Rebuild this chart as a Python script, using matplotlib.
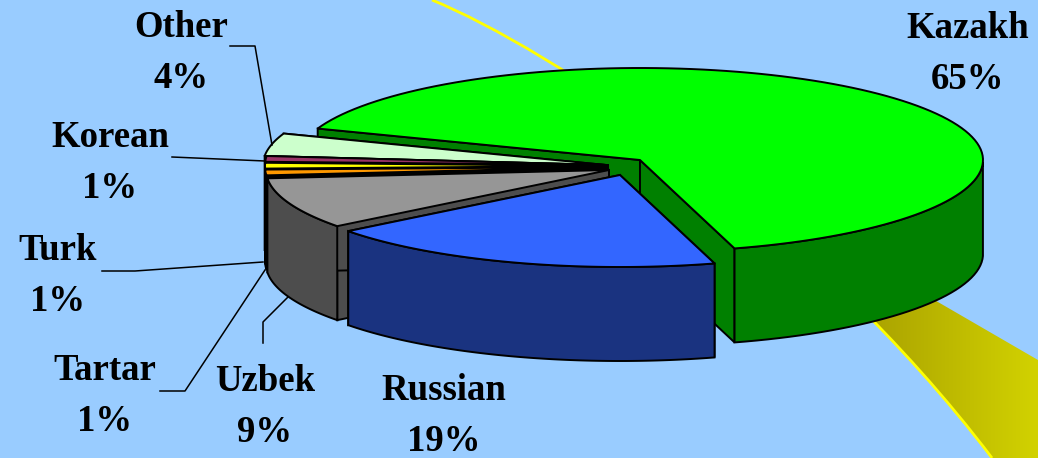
import numpy as np
import matplotlib
matplotlib.use('Agg')
import matplotlib.pyplot as plt
from matplotlib.colors import LinearSegmentedColormap
from matplotlib.patches import Polygon, PathPatch
from matplotlib.path import Path

groups = ['Kazakh', 'Russian', 'Uzbek', 'Tartar', 'Turk', 'Korean', 'Other']
shares = [65, 19, 9, 1, 1, 1, 4]

top_colors = ['#00FF00', '#3366FF', '#969696', '#FF9900', '#FFFF00', '#993366', '#CCFFCC']
side_colors = ['#008000', '#1A3380', '#4D4D4D', '#000000', '#000000', '#000000', '#000000']
# where each slice's point ends up after the explode
apex_x = [640, 620, 609, 608, 608, 608, 606]
apex_y = [160, 175, 170, 167, 166, 165, 165]
# draw back to front
draw_order = [0, 6, 5, 4, 3, 2, 1]

label_x = [968, 444, 265, 105, 58, 110, 181]
label_y = [54, 416, 407, 396, 276, 163, 53]

rx, ry = 343, 92
depth = 94
start = 160
edge = 1.4

plt.rcParams['font.family'] = ['Liberation Serif', 'DejaVu Serif']

fig = plt.figure(figsize=(10.38, 4.58), dpi=100, facecolor='#99CCFF')
ax = fig.add_axes([0, 0, 1, 1])
ax.set_facecolor('#99CCFF')
ax.axis('off')

# backdrop: yellow swoosh behind the pie
curve = [(432, 0), (549, 48), (810, 218), (992, 458)]
curve_codes = [Path.MOVETO, Path.CURVE4, Path.CURVE4, Path.CURVE4]
band = Path(curve + [(1038, 458), (1038, 360), (900, 280), (432, 0)],
            curve_codes + [Path.LINETO, Path.LINETO, Path.LINETO, Path.CLOSEPOLY])
clip = PathPatch(band, facecolor='none', edgecolor='none', zorder=1)
ax.add_patch(clip)
gradient = np.linspace(0, 1, 200).reshape(1, -1)
cmap = LinearSegmentedColormap.from_list('sw', ['#A8A000', '#D2D200'])
im = ax.imshow(gradient, extent=[860, 1038, 458, 280], cmap=cmap, aspect='auto', zorder=1)
im.set_clip_path(clip)
ax.add_patch(PathPatch(Path(curve, curve_codes), facecolor='none', edgecolor='#FFFF00',
                       lw=2, zorder=2))


def rim(cx, cy, t):
    t = np.radians(t)
    return np.column_stack([cx + rx * np.cos(t), cy - ry * np.sin(t)])


# slice angles come from the shares, going clockwise
ends = start - np.cumsum(shares) * 3.6
starts = np.concatenate([[start], ends[:-1]])

z = 3
for i in draw_order:
    cx, cy = apex_x[i], apex_y[i]
    t = np.linspace(starts[i], ends[i], 120)
    arc = rim(cx, cy, t)
    apex = np.array([[cx, cy]])
    low = np.array([0, depth])

    # cut faces
    for p in [arc[0], arc[-1]]:
        face = np.array([apex[0], p, p + low, apex[0] + low])
        ax.add_patch(Polygon(face, closed=True, facecolor=side_colors[i],
                             edgecolor='black', lw=edge, zorder=z))
        z += 1

    # outer wall, front half only
    front = t[np.sin(np.radians(t)) <= 0]
    if len(front) > 1:
        wall = rim(cx, cy, front)
        ax.add_patch(Polygon(np.vstack([wall, (wall + low)[::-1]]), closed=True,
                             facecolor=side_colors[i], edgecolor='black', lw=edge, zorder=z))
        z += 1

    ax.add_patch(Polygon(np.vstack([apex, arc]), closed=True, facecolor=top_colors[i],
                         edgecolor='black', lw=edge, joinstyle='round', zorder=z))
    z += 1

# leader lines
leaders = [
    [(230, 46), (255, 46), (272, 145)],
    [(172, 157), (265, 161)],
    [(102, 271), (135, 271), (263, 262)],
    [(160, 391), (185, 391), (265, 270)],
    [(263, 343), (263, 322), (288, 297)],
]
for pts in leaders:
    xs, ys = zip(*pts)
    ax.plot(xs, ys, color='black', lw=1.1, zorder=z)

for name, share, x, y in zip(groups, shares, label_x, label_y):
    ax.text(x, y, f'{name}\n{share}%', ha='center', va='center', fontsize=26.5,
            fontweight='bold', color='black', linespacing=1.6, zorder=z + 1)

ax.set_xlim(0, 1038)
ax.set_ylim(458, 0)
fig.savefig('out.png', dpi=100, facecolor=fig.get_facecolor())
